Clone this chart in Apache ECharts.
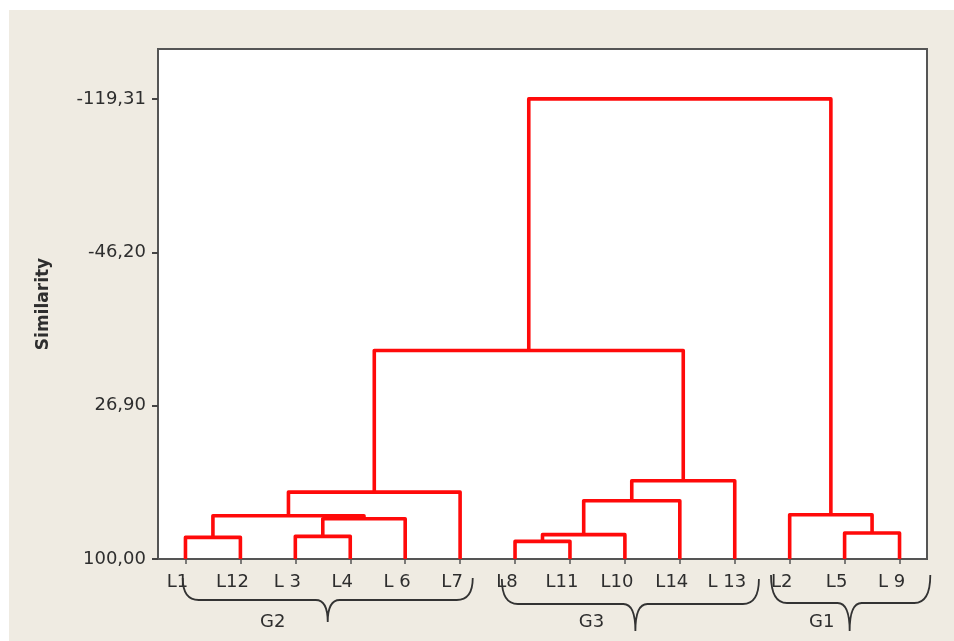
<!DOCTYPE html>
<html>
<head>
<meta charset="utf-8">
<script src="https://cdn.jsdelivr.net/npm/echarts@6/dist/echarts.min.js"></script>
<style>
html,body{margin:0;padding:0;background:#fff;}
#c{width:954px;height:641px;}
</style>
</head>
<body>
<div id="c"></div>
<script>
// ---- data ----
const leaves = ['L1','L12','L 3','L4','L 6','L7','L8','L11','L10','L14','L 13','L2','L5','L 9'];
// each merge joins two nodes: a number = leaf index, 'mK' = result of merge K
const mergeLeft   = [0,    2,    'm1', 'm0', 'm3', 6,    'm5', 'm6', 'm7', 'm4', 12,   11,   'm9'];
const mergeRight  = [1,    3,    4,    'm2', 5,    7,    8,    9,    10,   'm8', 13,   'm10','m11'];
const mergeHeight = [89.7, 89.2, 80.8, 79.4, 68.1, 91.6, 88.4, 72.2, 62.7, 0.6,  87.6, 78.9, -119.31];
const yTicks = [-119.31, -46.20, 26.90, 100.00];
const groupNames = ['G2','G3','G1'];
const groupFirst = [0, 6, 11];
const groupLast  = [5, 10, 13];

// ---- layout / style (not data) ----
const braceLayout = [
  {padL:0.05, padR:0.23, top:19, mid:41, tip:63, tipDx:0,  labelDx:-55},
  {padL:0.24, padR:0.44, top:20, mid:45, tip:72, tipDx:5,  labelDx:-44},
  {padL:0.34, padR:0.56, top:16, mid:44, tip:72, tipDx:-1, labelDx:-28}
];
const FONT = '"DejaVu Sans", Verdana, sans-serif';
const TXT = '#2e2e2e';

// build dendrogram segments in data space
const pos = {};
function nodeOf(ref){ return typeof ref === 'number' ? [ref, 100] : pos[ref]; }
const segs = [];
mergeHeight.forEach(function(h, i){
  const a = nodeOf(mergeLeft[i]), b = nodeOf(mergeRight[i]);
  segs.push({coords: [[a[0], a[1]], [a[0], h], [b[0], h], [b[0], b[1]]]});
  pos['m' + i] = [(a[0] + b[0]) / 2, h];
});
const leafIdx = leaves.map(function(_, i){ return i; });

const chart = echarts.init(document.getElementById('c'), null, {renderer:'canvas'});
chart.setOption({
  animation: false,
  backgroundColor: '#ffffff',
  graphic: [{
    type: 'rect', z: -100, silent: true,
    shape: {x: 9, y: 10, width: 945, height: 631},
    style: {fill: '#EFEBE2'}
  }],
  grid: {
    left: 158, right: 27, top: 49, bottom: 82,
    show: true, backgroundColor: '#ffffff', borderColor: '#555555', borderWidth: 2
  },
  xAxis: {
    type: 'value', min: -0.5, max: 13.5,
    splitLine: {show: false},
    axisLine: {show: true, onZero: false, lineStyle: {color: '#555555', width: 2}},
    axisTick: {show: true, length: 5, customValues: leafIdx, lineStyle: {color: '#555555', width: 1.5}},
    axisLabel: {
      customValues: leafIdx,
      formatter: function(v){ return leaves[Math.round(v)]; },
      fontFamily: FONT, fontSize: 18, color: TXT, margin: 14,
      padding: [0, 16, 0, 0]
    }
  },
  yAxis: {
    type: 'value', inverse: true, min: -143.1, max: 100,
    name: 'Similarity', nameLocation: 'middle', nameGap: 106, nameRotate: 90,
    nameTextStyle: {fontFamily: FONT, fontSize: 17, fontWeight: 'bold', color: TXT},
    splitLine: {show: false},
    axisLine: {show: true, onZero: false, lineStyle: {color: '#555555', width: 2}},
    axisTick: {show: true, length: 6, customValues: yTicks, lineStyle: {color: '#444444', width: 2}},
    axisLabel: {
      customValues: yTicks,
      formatter: function(v){ return v.toFixed(2).replace('.', ','); },
      fontFamily: FONT, fontSize: 18, color: TXT, margin: 12
    }
  },
  series: [
    {
      type: 'lines', coordinateSystem: 'cartesian2d', polyline: true, silent: true, z: 3,
      data: segs,
      lineStyle: {color: '#ff0a0a', width: 3.6, opacity: 1, join: 'round'}
    },
    {
      type: 'custom', coordinateSystem: 'cartesian2d', clip: false, silent: true, z: 4,
      data: groupNames.map(function(n, i){ return [groupFirst[i], groupLast[i], i]; }),
      encode: {x: [0, 1]},
      renderItem: function(params, api){
        const i = api.value(2);
        const L = braceLayout[i];
        const x1 = api.coord([api.value(0) - L.padL, 100])[0];
        const x2 = api.coord([api.value(1) + L.padR, 100])[0];
        const base = api.coord([0, 100])[1];
        const xm = (x1 + x2) / 2 + L.tipDx;
        const yT = base + L.top, yH = base + L.mid, yP = base + L.tip;
        const r = 16, r2 = 12;
        const d = 'M' + x1 + ' ' + yT +
          ' Q' + x1 + ' ' + yH + ' ' + (x1 + r) + ' ' + yH +
          ' L' + (xm - r2) + ' ' + yH +
          ' Q' + xm + ' ' + yH + ' ' + xm + ' ' + yP +
          ' Q' + xm + ' ' + yH + ' ' + (xm + r2) + ' ' + yH +
          ' L' + (x2 - r) + ' ' + yH +
          ' Q' + x2 + ' ' + yH + ' ' + x2 + ' ' + yT;
        return {
          type: 'group',
          children: [
            {type: 'path', shape: {pathData: d}, style: {fill: null, stroke: '#333333', lineWidth: 1.8}},
            {type: 'text', x: xm + L.labelDx, y: base + 63,
             style: {text: groupNames[i], fill: TXT, font: '18px ' + FONT, align: 'center', verticalAlign: 'middle'}}
          ]
        };
      }
    }
  ]
});
</script>
</body>
</html>
